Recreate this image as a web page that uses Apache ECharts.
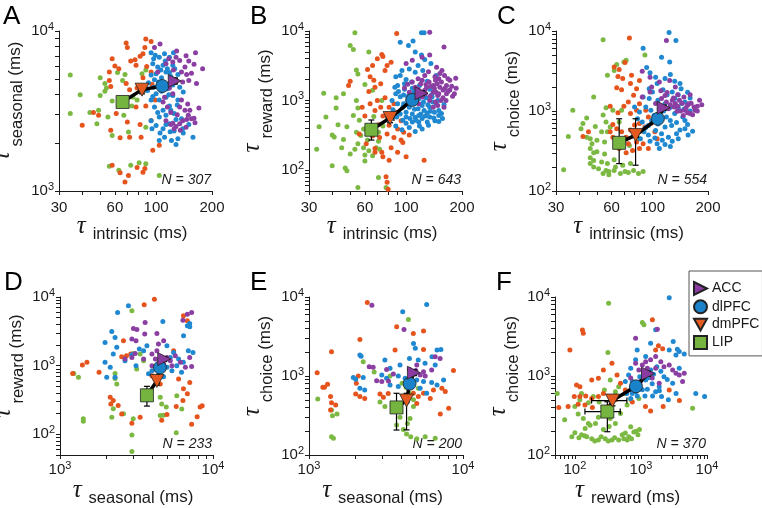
<!DOCTYPE html>
<html>
<head>
<meta charset="utf-8">
<script src="https://cdn.jsdelivr.net/npm/echarts@6/dist/echarts.min.js"></script>
<style>
  html, body { margin: 0; padding: 0; background: #fff; }
  #chart { width: 762px; height: 508px; }
</style>
</head>
<body>
<div id="chart"></div>
<script>
// group order everywhere: LIP, dmPFC, dlPFC, ACC
const groups = ['LIP', 'dmPFC', 'dlPFC', 'ACC'];
const dotColors = ['#7cb943', '#e6541d', '#1f88d0', '#8b3fa2'];
const meanColors = ['#74b43f', '#e25a1f', '#1a82c9', '#8a3b9f'];

// tick labels
const intrinsicLabels = [30, 60, 100, 200];
const decadeLabels = [100, 1000, 10000];

// A: intrinsic vs seasonal
const aLIP = [[34.5,5300],[34.5,3050],[39,4000],[44,3100],[48,2630],[50,5100],[53,4700],[54,4400],[53,4200],[50,3950],[49,3200],[55,2900],[58,3650],[66,4900],[68,5350],[62,5500],[74,3400],[75,3850],[79,3700],[84,5400],[88,5700],[58,2220],[71,2340],[88,2500],[56,1430],[63,1350],[73,1450],[81,1500],[88,1480],[104,1250],[67,2970]];
const aDmPFC = [[40,2580],[46,3100],[49,2970],[58,6700],[56,5550],[57,4500],[60,6050],[63,5800],[69,8400],[70,7900],[73,6500],[77,6600],[82,6950],[78,6100],[85,7200],[88,8900],[94,8600],[87,7900],[89,6000],[94,5550],[85,5100],[69,4700],[72,4300],[79,4400],[95,4650],[67,3700],[78,3350],[88,3400],[99,3700],[61,3050],[70,2700],[82,2600],[94,2760],[57,2400],[64,2150],[72,2170],[83,2170],[96,1800],[58,1450],[64,1300],[68,1140],[71,1250],[79,1400],[85,1310],[87,1380],[104,1930],[56,4900]];
const aDlPFC = [[94,7300],[99,7050],[104,6850],[111,7200],[118,6850],[124,7300],[96,6250],[102,5950],[109,6100],[115,5800],[123,6100],[94,5300],[100,5400],[107,5100],[113,5550],[120,5200],[131,5350],[91,4750],[97,4450],[103,4800],[134,4450],[140,4150],[100,4050],[94,3700],[104,3700],[113,3850],[123,3950],[131,3700],[98,3350],[109,3200],[118,3400],[104,2900],[113,2970],[125,3050],[137,2830],[100,2570],[109,2450],[118,2630],[125,2370],[111,2170],[121,2070],[104,2070],[131,2120],[128,1950],[158,2170],[139,2450],[90,4250],[115,4350],[97,6700],[112,6500],[106,5700],[118,5500],[126,5800],[98,4950],[110,4600],[123,4600],[107,4200],[117,4000],[96,3900],[130,3450],[102,3100],[120,3200],[94,2750],[113,2600],[128,2800],[105,2300],[119,2350],[140,2300],[95,2450],[150,2600]];
const aACC = [[105,8300],[129,7500],[163,7300],[178,5800],[117,6700],[123,6400],[134,6550],[128,6850],[143,5950],[113,6250],[137,5550],[146,5350],[155,5450],[128,4900],[139,4800],[111,4700],[118,4400],[123,4050],[111,3850],[109,3600],[115,3350],[134,3350],[143,3200],[149,2970],[155,2830],[146,2800],[134,2630],[123,2650],[128,2530],[120,2600],[139,2750],[113,2750],[152,3200],[162,2670],[137,3700],[98,7900],[102,5550],[145,7000],[150,6500],[160,6200],[124,5700],[150,4900],[165,4700],[120,3100],[130,3000],[160,2850],[145,2500],[135,2400],[125,2450],[170,3300],[148,3500]];
// mean rows: [x, y, xLow, xHigh, yLow, yHigh]
const aMeans = [[66,3600,63,69,3350,3870],[84,4300,81,87,4050,4550],[108,4530,105,111,4350,4700],[126,4870,122,130,4650,5100]];

// B: intrinsic vs reward
const bLIP = [[53,9400],[50,6200],[52,5400],[63,5000],[54,2750],[55,2400],[46,1250],[42,1100],[36,1270],[37,580],[34,420],[33,200],[40,320],[41,300],[40,115],[43,450],[46,275],[50,170],[47,107],[48,98],[54,1000],[55,780],[52,610],[56,520],[59,390],[54,350],[57,315],[62,270],[55,240],[59,210],[53,200],[63,190],[60,165],[66,160],[69,210],[71,260],[60,135],[55,56],[71,78],[78,56],[71,350],[75,430],[67,590],[48,420],[45,210],[42,780],[60,1700],[66,1400],[74,1000],[72,200]];
const bDmPFC = [[89,9200],[74,4600],[75,4300],[70,4000],[66,3200],[62,2800],[64,2200],[67,1950],[50,1900],[49,1650],[63,1350],[68,1550],[73,1750],[77,2700],[79,3200],[83,3550],[70,1000],[77,1100],[58,800],[64,900],[68,720],[73,800],[81,800],[86,900],[60,600],[75,600],[82,580],[88,680],[94,510],[65,410],[71,450],[81,440],[90,390],[97,350],[66,310],[72,295],[79,330],[86,295],[94,270],[104,320],[61,240],[68,205],[74,180],[83,210],[90,180],[100,155],[75,155],[81,138],[125,138],[78,80],[79,67],[80,53],[96,250],[56,330],[68,180]];
const bDlPFC = [[121,9400],[125,9400],[93,6900],[109,7200],[103,6200],[112,5000],[121,4500],[126,3900],[116,3200],[136,3400],[95,2700],[104,2850],[112,2550],[123,2700],[145,2300],[88,2200],[100,2000],[107,1850],[90,1650],[98,1450],[88,1250],[93,1130],[84,1000],[90,900],[96,800],[102,1000],[107,900],[116,760],[122,850],[134,800],[145,900],[150,720],[100,680],[108,640],[117,610],[130,660],[142,680],[148,1000],[138,1130],[100,580],[105,550],[112,570],[122,550],[134,580],[93,640],[85,740],[91,1350],[87,1550],[126,1250],[134,1450],[110,1330],[150,610],[157,550],[117,490],[130,490],[108,490],[100,470],[143,510],[104,410],[112,360],[122,390],[102,1130],[117,1060],[93,2300],[97,1200],[103,1150],[112,1250],[119,1180],[128,1100],[137,1200],[113,1000],[124,950],[131,870],[139,950],[97,900],[104,800],[111,750],[125,720],[135,700],[120,640],[127,600],[113,520],[96,520],[89,580],[141,560],[150,500],[155,650],[160,880],[108,1500],[118,1650],[98,1750],[130,1900],[88,430],[95,380],[118,430],[132,440]];
const bACC = [[134,9600],[160,5900],[100,3400],[108,3800],[122,4200],[134,4500],[146,3000],[156,2700],[161,2300],[172,1950],[182,1250],[126,2300],[116,2050],[108,1850],[120,1750],[133,1850],[144,1950],[140,1650],[152,1550],[158,1420],[165,1250],[172,1420],[116,1450],[126,1400],[140,1320],[148,1180],[122,1120],[110,1170],[104,1320],[134,1000],[144,950],[154,1000],[160,800],[140,800],[117,900],[98,1520],[102,1720],[145,1320],[129,1550],[150,2050],[165,1650],[122,1950],[148,850],[142,1500],[128,1700],[136,1600],[147,1750],[155,1850],[162,1500],[168,1350],[176,1600],[150,1250],[158,1100],[164,1000],[135,1150],[127,1250],[118,1350],[112,1550],[143,2200],[132,2600],[152,2450],[168,2050],[185,2100],[186,1500],[178,1150]];
const bMeans = [[65,380,61,69,270,525],[82,560,78,86,480,660],[108,1020,104,112,950,1100],[121,1270,117,125,1180,1370]];

// C: intrinsic vs choice
const cLIP = [[33,185],[54,7800],[72,4300],[70,4100],[64,3800],[62,3200],[57,2800],[91,5000],[48,1500],[37,1020],[42,700],[41,600],[44,820],[35,480],[44,470],[46,450],[56,1100],[61,1020],[54,890],[56,730],[49,640],[53,550],[57,550],[59,630],[66,730],[47,390],[50,430],[55,410],[46,340],[50,310],[55,290],[48,240],[53,230],[57,220],[62,245],[48,200],[51,190],[56,180],[58,175],[62,180],[67,165],[71,175],[74,170],[79,180],[84,165],[89,175],[54,165],[58,160],[63,200],[69,210],[76,220],[48,300],[46,260],[75,370],[85,450],[68,1020],[46,220]];
const cDmPFC = [[75,8200],[62,3550],[66,3300],[71,4050],[65,2700],[69,2550],[64,1950],[68,1850],[76,2200],[82,1900],[79,1570],[85,2400],[77,2800],[42,480],[45,550],[59,550],[61,470],[64,600],[68,550],[72,470],[76,580],[80,670],[85,550],[91,630],[63,390],[66,410],[74,390],[82,410],[89,390],[95,340],[66,340],[78,320],[85,340],[72,300],[59,1150],[65,950],[70,1150],[76,930],[82,1020],[74,1300],[85,1230],[92,1020],[95,840],[99,710],[103,550],[106,450],[85,700],[61,680]];
const cDlPFC = [[123,9600],[134,7600],[89,6100],[124,4100],[112,4700],[93,3500],[97,3000],[104,2650],[117,2550],[125,2850],[132,2350],[141,2200],[106,2200],[96,1900],[100,1730],[114,1850],[128,1730],[143,1900],[155,1720],[89,1500],[96,1430],[107,1360],[117,1230],[132,1430],[144,1240],[80,1120],[85,970],[92,1120],[98,1020],[109,920],[119,840],[132,930],[146,840],[150,760],[83,800],[88,730],[95,660],[99,760],[107,690],[117,630],[127,660],[141,580],[150,600],[90,550],[95,500],[104,570],[112,520],[122,470],[135,520],[156,500],[97,420],[106,390],[113,430],[125,360],[109,340],[80,520],[115,1000],[124,1100],[138,1100],[148,1050],[160,1000],[102,880],[112,800],[125,760],[135,720],[155,680],[165,560],[138,450],[128,420],[117,380],[103,460],[92,620],[86,450],[150,1300],[160,1450],[120,1600],[138,1600]];
const cACC = [[119,7600],[88,3150],[97,2650],[109,2300],[124,2400],[133,2000],[88,1500],[97,1730],[112,1430],[119,1300],[128,1360],[140,1360],[148,1500],[157,1230],[168,1120],[180,1360],[131,1120],[122,1070],[112,1120],[150,1020],[160,930],[136,990],[147,880],[170,1020],[155,1180],[133,1240],[104,1240],[109,1070],[117,1560],[111,1790],[99,2000],[125,1200],[137,1150],[145,1250],[152,1100],[162,1250],[175,1150],[185,1200],[142,1000],[155,950],[165,900],[130,1450],[137,1600],[160,1600],[120,1700],[175,1000]];
const cMeans = [[66,400,63,69,220,800],[81,500,78,84,210,800],[107,800,104,110,740,870],[115,1100,112,118,1020,1180]];

// D: seasonal vs reward
const dLIP = [[1230,770],[1320,680],[1420,168],[1420,155],[2950,6300],[3010,1510],[3340,1480],[2290,770],[2290,650],[2350,540],[2230,235],[2180,177],[2600,200],[3010,168],[2950,98],[2950,56],[4300,610],[4520,347],[4620,277],[4950,250],[4520,188],[4750,190],[5750,105],[5800,366],[6250,234],[3520,1180],[3170,895],[3800,330]];
const dDmPFC = [[4140,9300],[3550,7700],[1210,770],[1400,1020],[1500,1120],[1800,800],[2130,347],[2230,310],[2400,263],[2150,277],[2530,198],[2950,145],[3340,177],[6410,5320],[6800,4510],[5530,1650],[2600,2310],[2720,1400],[2530,1350],[2900,1480],[3990,715],[4520,540],[5960,640],[6410,460],[6800,390],[7050,570],[6360,310],[8240,250],[8500,260],[7880,180],[7250,140],[5750,255],[4620,160],[5000,195]];
const dDlPFC = [[2800,7440],[2380,5960],[4700,4400],[2180,3150],[2290,2580],[1970,2180],[2350,1850],[2230,1480],[1970,1120],[2130,950],[2290,680],[2020,680],[2660,1180],[2950,1440],[3520,1650],[3300,1750],[3700,1950],[5530,1560],[5960,1250],[6400,1120],[6900,1650],[7400,1560],[6420,2730],[6800,3810],[7050,3690],[5000,1950],[5260,1320],[5000,945],[5390,845],[5800,1000],[6230,800],[4520,945],[4300,690],[4750,690],[3990,845],[3790,760],[3140,1000],[7040,4120]];
const dACC = [[7250,5950],[6800,5630],[6360,4600],[3600,4260],[3020,3490],[3180,3370],[3580,2880],[4300,2950],[4760,2310],[4400,2060],[3140,2310],[3100,1510],[3520,1250],[3990,1480],[4300,1650],[5000,1320],[5260,1180],[5670,1400],[6120,1120],[6600,945],[7250,970],[7040,1320],[4200,1250],[4750,1060],[3990,1000],[5390,1000],[2950,1320],[2660,1250],[2950,2440]];
const dMeans = [[3700,370,3550,3850,258,500],[4300,600,4150,4450,520,700],[4500,940,4350,4650,870,1020],[4800,1250,4650,4950,1150,1350]];

// E: seasonal vs choice
const eLIP = [[1140,510],[1400,370],[1420,315],[1520,330],[1400,170],[1440,163],[4420,5180],[2250,1520],[2650,1120],[3360,1000],[4020,810],[4270,720],[4490,605],[4770,500],[4770,410],[4530,290],[4360,250],[4100,210],[4300,185],[4580,170],[5010,160],[5680,170],[6600,163],[3710,240],[3900,300],[3110,410],[2890,470],[5130,700]];
const eDmPFC = [[2390,8520],[1130,1100],[1230,720],[1260,720],[1320,785],[1400,2030],[1380,550],[1400,460],[1380,370],[1490,430],[2140,2900],[3710,4200],[4760,3460],[5540,3700],[3620,2130],[5540,2170],[2090,1000],[2030,810],[2010,590],[2140,550],[2300,520],[3040,540],[3270,600],[4760,605],[5130,550],[5540,605],[6130,520],[6430,665],[7290,700],[7670,635],[8070,390],[7120,330],[8670,1170],[5010,450],[2890,590]];
const eDlPFC = [[5810,8060],[4060,6490],[4770,2580],[4900,2240],[2140,1840],[2180,1780],[3110,1590],[3360,1250],[3900,1380],[4490,1670],[5120,1590],[5670,1450],[6290,1750],[6780,2130],[7190,2170],[6600,1380],[1940,960],[2010,910],[2250,960],[2970,1030],[3190,935],[3800,1000],[4210,935],[5010,890],[5540,850],[6260,825],[7480,890],[2140,700],[2300,665],[3360,770],[3800,735],[5270,700],[5810,605],[6780,770],[4320,550]];
const eACC = [[2560,7880],[4140,3880],[2460,1310],[2610,1290],[3190,1210],[4490,1210],[4940,1170],[5270,1030],[5680,1000],[6260,1190],[6600,1750],[7100,1670],[3280,865],[2970,850],[3530,1060],[2750,870],[5540,1130],[5010,1380]];
const eMeans = [[3700,400,3550,3850,207,604],[4300,490,4150,4450,208,604],[4500,800,4350,4650,730,880],[4800,1100,4650,4950,1010,1200]];

// F: reward vs choice
const fLIP = [[54,600],[324,8350],[1050,4750],[1110,4440],[70,280],[100,191],[126,180],[151,170],[180,160],[227,155],[288,160],[364,155],[460,155],[550,160],[655,170],[780,195],[850,200],[700,228],[580,190],[143,217],[170,238],[205,250],[134,290],[112,330],[227,300],[288,370],[342,290],[410,250],[490,336],[617,430],[700,505],[930,520],[100,410],[119,500],[160,460],[190,550],[233,470],[280,665],[316,1980],[343,890],[410,630],[460,730],[580,600],[126,600],[6050,390],[90,170],[115,165],[140,175],[200,150],[250,170],[320,150],[400,165],[520,180],[620,155],[720,160],[900,180],[950,210],[270,210],[330,230],[160,250]];
const fDmPFC = [[134,3470],[130,3830],[84,2140],[106,770],[119,730],[57,400],[79,410],[98,550],[119,550],[146,560],[180,520],[227,550],[270,600],[112,440],[142,430],[184,400],[324,415],[410,500],[270,1190],[227,935],[180,890],[364,1450],[435,1030],[490,810],[580,665],[740,470],[1170,410],[1400,360],[1670,2140],[1840,2420],[2130,2220],[1490,5140],[3820,490],[2680,665],[2170,410],[316,320]];
const fDlPFC = [[2680,9800],[877,2140],[1670,3840],[2680,2140],[3080,2730],[3560,2180],[3800,2040],[4520,1900],[3390,1850],[1400,2600],[1180,1760],[830,1600],[700,1250],[650,1030],[580,850],[740,850],[700,670],[830,630],[1050,670],[1250,680],[1670,630],[2050,550],[1890,730],[1480,800],[1180,890],[1400,1190],[1740,1310],[2230,980],[3020,810],[3800,1250],[6760,600],[9200,550],[740,600],[700,520],[720,720],[770,780],[900,820],[960,980],[1100,1100],[1300,950],[1550,1050],[2000,1150],[2500,900],[610,600],[880,560],[1150,560],[1500,560],[1900,650],[2600,500],[3400,600]];
const fACC = [[1770,3900],[830,3000],[1180,1520],[1400,1600],[1670,1760],[2000,1520],[2230,1310],[2680,1380],[3020,1190],[3390,1080],[3800,1030],[4520,1080],[4270,850],[1670,1250],[1400,1080],[1180,1030],[930,1190],[1050,1380],[1250,1250],[830,1450],[700,940],[980,850],[1480,940],[1890,810]];
const fMeans = [[310,355,142,486,197,472],[371,489,179,613,420,580],[840,740,780,900,680,800],[1280,1070,1200,1370,990,1150]];

const triRight = 'path://M0,0L10,5L0,10Z';
const triDown = 'path://M0,0L10,0L5,9Z';
const meanSymbols = ['rect', triDown, 'circle', triRight];

function logTicks(min, max) {
  const out = [];
  for (let p = Math.floor(Math.log10(min)); p <= Math.ceil(Math.log10(max)); p++) {
    for (let m = 1; m < 10; m++) {
      const v = m * Math.pow(10, p);
      if (v >= min - 1e-9 && v <= max + 1e-9) out.push(v);
    }
  }
  return out;
}

const panels = [
  { letter: 'A', n: 307, grid: [59, 31, 153, 160], x: [30, 200, 'intrinsic'], y: [1000, 10000, 'seasonal'], pts: [aLIP, aDmPFC, aDlPFC, aACC], means: aMeans },
  { letter: 'B', n: 643, grid: [309, 31, 153, 160], x: [30, 200, 'intrinsic'], y: [50, 10000, 'reward'], pts: [bLIP, bDmPFC, bDlPFC, bACC], means: bMeans },
  { letter: 'C', n: 554, grid: [556, 31, 152, 160], x: [30, 200, 'intrinsic'], y: [100, 10000, 'choice'], pts: [cLIP, cDmPFC, cDlPFC, cACC], means: cMeans },
  { letter: 'D', n: 233, grid: [60, 297, 153, 158], x: [1000, 10000, 'seasonal'], y: [50, 10000, 'reward'], pts: [dLIP, dDmPFC, dDlPFC, dACC], means: dMeans },
  { letter: 'E', n: 200, grid: [309, 297, 154, 158], x: [1000, 10000, 'seasonal'], y: [100, 10000, 'choice'], pts: [eLIP, eDmPFC, eDlPFC, eACC], means: eMeans },
  { letter: 'F', n: 370, grid: [555, 297, 152, 158], x: [50, 10000, 'reward'], y: [100, 10000, 'choice'], pts: [fLIP, fDmPFC, fDlPFC, fACC], means: fMeans }
];

const font = '"Liberation Sans", Arial, sans-serif';
const serif = '"Liberation Serif", serif';
const ink = '#1a1a1a';
// x names: tau slightly raised, subscript a hair below "(ms)"
const xNameRich = {
  t: { fontFamily: serif, fontStyle: 'italic', fontSize: 25, color: ink, padding: [0, 0, 13, 0] },
  s: { fontFamily: font, fontSize: 16.5, color: ink, padding: [3, 0, 0, 7] },
  m: { fontFamily: font, fontSize: 17, color: ink }
};
// y names: tau sits further from the axis
const yNameRich = {
  t: { fontFamily: serif, fontStyle: 'italic', fontSize: 25, color: ink, padding: [0, 0, 26, 0] },
  s: { fontFamily: font, fontSize: 16.5, color: ink, padding: [3, 0, 0, 5] },
  m: { fontFamily: font, fontSize: 17, color: ink }
};
const labelRich = {
  b: { fontFamily: font, fontSize: 15, color: ink },
  e: { fontFamily: font, fontSize: 11, color: ink, padding: [0, 0, 9, 0] }
};

function decadeLabel(v) {
  return '{b|10}{e|' + Math.round(Math.log10(v)) + '}';
}

function axisCommon(min, max) {
  return {
    type: 'log', logBase: 10, min: min, max: max,
    nameMoveOverlap: false,
    axisLine: { lineStyle: { color: ink, width: 1 } },
    axisTick: { show: true, length: 4, customValues: logTicks(min, max), lineStyle: { color: ink, width: 1 } },
    minorTick: { show: false },
    splitLine: { show: false }
  };
}

function errRender(params, api) {
  const x = api.value(0), y = api.value(1);
  const c = api.coord([x, y]);
  const l = api.coord([api.value(2), y]);
  const r = api.coord([api.value(3), y]);
  const lo = api.coord([x, api.value(4)]);
  const hi = api.coord([x, api.value(5)]);
  const st = { stroke: '#000', lineWidth: 1.2 };
  const cap = 3;
  return {
    type: 'group',
    children: [
      { type: 'line', shape: { x1: l[0], y1: c[1], x2: r[0], y2: c[1] }, style: st },
      { type: 'line', shape: { x1: l[0], y1: c[1] - cap, x2: l[0], y2: c[1] + cap }, style: st },
      { type: 'line', shape: { x1: r[0], y1: c[1] - cap, x2: r[0], y2: c[1] + cap }, style: st },
      { type: 'line', shape: { x1: c[0], y1: lo[1], x2: c[0], y2: hi[1] }, style: st },
      { type: 'line', shape: { x1: c[0] - cap, y1: lo[1], x2: c[0] + cap, y2: lo[1] }, style: st },
      { type: 'line', shape: { x1: c[0] - cap, y1: hi[1], x2: c[0] + cap, y2: hi[1] }, style: st }
    ]
  };
}

const grid = [], xAxis = [], yAxis = [], series = [], graphic = [];

panels.forEach(function (p, i) {
  grid.push({ left: p.grid[0], top: p.grid[1], width: p.grid[2], height: p.grid[3], containLabel: false, outerBoundsMode: 'none' });

  const xa = axisCommon(p.x[0], p.x[1]);
  xa.gridIndex = i;
  xa.name = '{t|τ}{s|' + p.x[2] + '}{m| (ms)}';
  xa.nameLocation = 'middle';
  xa.nameGap = 23;
  xa.nameTextStyle = { rich: xNameRich, verticalAlign: 'top', padding: [0, 7, 0, 0] };
  xa.axisLabel = p.x[2] === 'intrinsic'
    ? { customValues: intrinsicLabels, margin: 9, fontFamily: font, fontSize: 15, color: ink }
    : { customValues: decadeLabels.filter(v => v >= p.x[0] && v <= p.x[1]), margin: 5, formatter: decadeLabel, rich: labelRich };
  xAxis.push(xa);

  const ya = axisCommon(p.y[0], p.y[1]);
  ya.gridIndex = i;
  ya.name = '{t|τ}{s|' + p.y[2] + '}{m| (ms)}';
  ya.nameLocation = 'middle';
  ya.nameRotate = 90;
  ya.nameGap = 18;
  ya.nameTextStyle = { rich: yNameRich, padding: [0, 0, 0, 20] };
  ya.axisLabel = { customValues: decadeLabels.filter(v => v >= p.y[0] && v <= p.y[1]), margin: 5, formatter: decadeLabel, rich: labelRich };
  yAxis.push(ya);

  p.pts.forEach(function (pts, g) {
    series.push({
      type: 'scatter', name: groups[g] + ' cells', xAxisIndex: i, yAxisIndex: i,
      data: pts, symbolSize: 5, itemStyle: { color: dotColors[g], opacity: 1 },
      silent: true, z: 2
    });
  });

  series.push({
    type: 'custom', xAxisIndex: i, yAxisIndex: i, renderItem: errRender,
    data: p.means, silent: true, z: 3
  });
  series.push({
    type: 'line', xAxisIndex: i, yAxisIndex: i, data: p.means.map(m => [m[0], m[1]]),
    symbol: 'none', lineStyle: { color: '#000', width: 3.5 }, silent: true, z: 4
  });
  p.means.forEach(function (m, g) {
    series.push({
      type: 'scatter', name: groups[g], xAxisIndex: i, yAxisIndex: i,
      data: [[m[0], m[1]]], symbol: meanSymbols[g], symbolSize: g === 1 ? [14, 13] : 13,
      itemStyle: { color: meanColors[g], borderColor: '#222', borderWidth: 0.8, opacity: 1 },
      silent: true, z: 5
    });
  });

  graphic.push({
    type: 'text', left: p.grid[0] - 56 + (i % 3 === 0 ? 0 : -3), top: p.grid[1] - 27,
    style: { text: p.letter, font: '26px ' + font, fill: '#000' }
  });
  graphic.push({
    type: 'text', right: 762 - (p.grid[0] + p.grid[2] - 1), top: p.grid[1] + p.grid[3] - 18,
    style: { text: 'N = ' + p.n, font: 'italic 14px ' + font, fill: ink }
  });
});

const chart = echarts.init(document.getElementById('chart'), null, { renderer: 'canvas' });
chart.setOption({
  animation: false,
  backgroundColor: '#fff',
  textStyle: { fontFamily: font },
  grid: grid,
  xAxis: xAxis,
  yAxis: yAxis,
  legend: {
    orient: 'vertical', left: 689, top: 271,
    padding: [10, 3, 6, 4], itemGap: 3.3, itemWidth: 13, itemHeight: 13,
    borderColor: '#555', borderWidth: 1, selectedMode: false,
    textStyle: { fontFamily: font, fontSize: 14, color: ink },
    data: [
      { name: 'ACC', icon: triRight },
      { name: 'dlPFC', icon: 'circle' },
      { name: 'dmPFC', icon: triDown },
      { name: 'LIP', icon: 'rect' }
    ]
  },
  graphic: graphic,
  series: series
});
</script>
</body>
</html>
